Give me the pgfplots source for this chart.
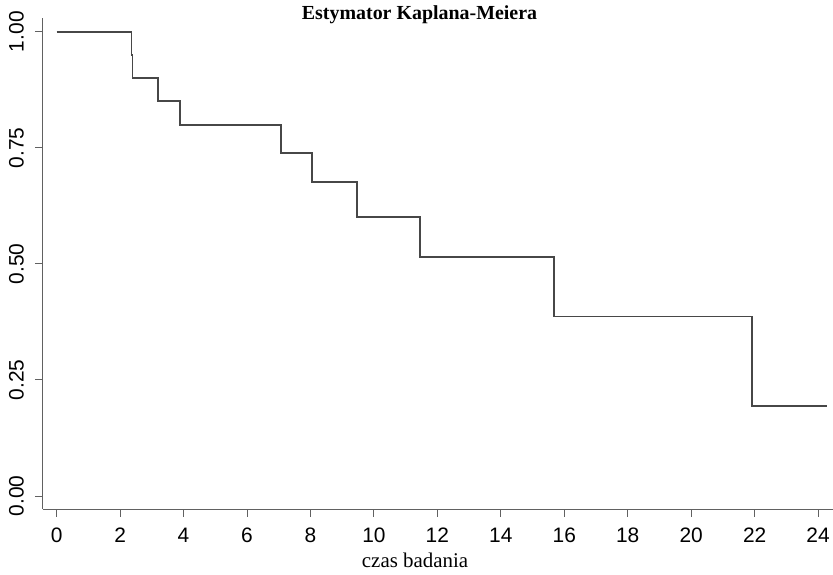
\documentclass[border=0pt]{standalone}
\usepackage{fontspec}
\setmainfont{Liberation Sans}
\newfontfamily\seriffont{Liberation Serif}
\usepackage{pgfplots}
\pgfplotsset{compat=1.18}
\begin{document}
\begin{tikzpicture}
\begin{axis}[
  at={(0,0)}, anchor=south west,
  scale only axis, width=790bp, height=491bp,
  xmin=-0.43, xmax=24.47, ymin=-0.028, ymax=1.0295,
  axis lines=left,
  axis line style={-, draw=black!62, line width=1bp},
  xtick={0,2,...,24},
  ytick={0,0.25,0.5,0.75,1},
  yticklabels={0.00,0.25,0.50,0.75,1.00},
  tick align=outside, major tick length=8bp,
  tick style={line width=1bp, draw=black!62},
  /pgf/number format/assume math mode=true,
  tick label style={font=\fontsize{21}{25}\selectfont, inner sep=0pt},
  xticklabel style={anchor=north},
  yticklabel style={rotate=90, anchor=south},
  xticklabel shift=11bp,
  yticklabel shift=11bp,
  title={Estymator Kaplana-Meiera},
  title style={at={(axis description cs:0.4766,0.996)}, anchor=base, yshift=-6pt, inner sep=0pt, font=\seriffont\bfseries\fontsize{20}{24}\selectfont},
  xlabel={czas badania},
  xlabel style={at={(axis description cs:0.471,-0.1195)}, anchor=base, inner sep=0pt, font=\seriffont\fontsize{21}{24}\selectfont},
]
\addplot[const plot, draw=black!72, line width=1.9bp] coordinates {
(0,1) (2.36,0.95) (2.39,0.90) (3.19,0.85) (3.89,0.80) (7.07,0.7385) (8.05,0.677) (9.46,0.6015) (11.45,0.5156) (15.68,0.3867) (21.92,0.1933) (24.27,0.1933)
};
\end{axis}
\pgfresetboundingbox
\path (-43bp,-66bp) rectangle (790bp,509bp);
\end{tikzpicture}
\end{document}
